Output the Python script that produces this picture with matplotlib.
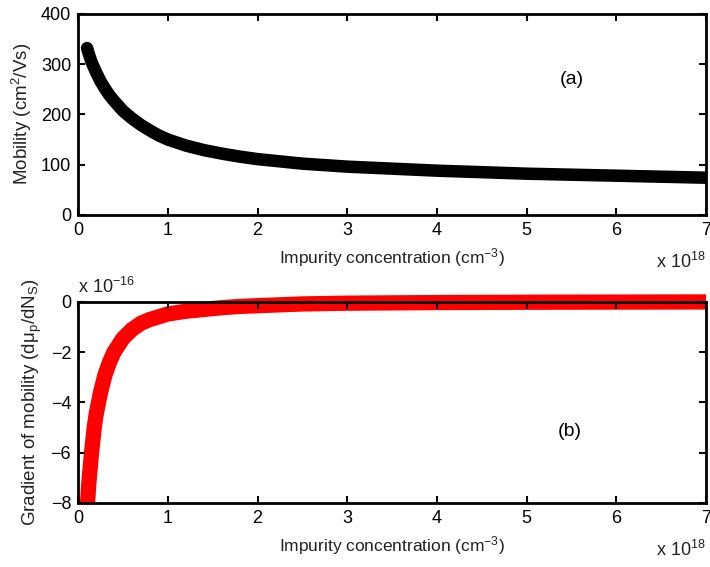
import numpy as np
import matplotlib.pyplot as plt

plt.rcParams['font.family'] = ['Liberation Sans', 'DejaVu Sans']
plt.rcParams['mathtext.fontset'] = 'custom'
plt.rcParams['mathtext.rm'] = 'Liberation Sans'
plt.rcParams['mathtext.it'] = 'Liberation Sans:italic'

# impurity concentration in units of 1e18 cm^-3
conc_a = [0.1, 0.12, 0.15, 0.2, 0.25, 0.3, 0.35, 0.4, 0.5, 0.6, 0.7, 0.8, 0.9,
          1.0, 1.2, 1.4, 1.6, 1.8, 2.0, 2.5, 3.0, 3.5, 4.0, 4.5, 5.0, 5.5,
          6.0, 6.5, 7.0]
mobility = [332, 320, 304, 284, 266, 251, 238, 227, 207, 192, 179, 168, 158,
            150, 138, 129, 122, 116, 111, 102, 96, 92, 88, 85, 82, 80,
            78, 76, 74]

# gradient in units of 1e-16
conc_b = [0.105, 0.12, 0.15, 0.18, 0.2, 0.25, 0.3, 0.35, 0.4, 0.5, 0.6, 0.7,
          0.8, 1.0, 1.2, 1.4, 1.6, 1.8, 2.0, 2.5, 3.0, 4.0, 5.0, 6.0, 7.0]
gradient = [-8.0, -7.2, -6.0, -5.0, -4.5, -3.6, -2.9, -2.4, -2.0, -1.45, -1.1,
            -0.85, -0.7, -0.48, -0.37, -0.3, -0.23, -0.18, -0.15, -0.08, -0.05,
            -0.025, -0.012, -0.006, 0.0]

fig = plt.figure(figsize=(7.1, 5.67), dpi=100)
ax1 = fig.add_axes([0.110, 0.621, 0.8845, 0.3545])
ax2 = fig.add_axes([0.110, 0.113, 0.8845, 0.3545])

ax1.plot(conc_a, mobility, color='black', lw=9, solid_capstyle='round',
         solid_joinstyle='round', zorder=3)
ax2.plot(conc_b, gradient, color='red', lw=11, solid_capstyle='butt',
         solid_joinstyle='round', clip_on=False, zorder=1)

ax1.set_xlim(0, 7)
ax1.set_ylim(0, 400)
ax1.set_yticks([0, 100, 200, 300, 400])
ax2.set_xlim(0, 7)
ax2.set_ylim(-8, 0)
ax2.set_yticks([-8, -6, -4, -2, 0])

txt = '#222222'
for ax in (ax1, ax2):
    ax.set_xticks(range(8))
    ax.tick_params(direction='in', top=True, right=True, labelsize=13,
                   length=5, width=1.5, pad=5)
    for s in ax.spines.values():
        s.set_linewidth(2)
        s.set_zorder(4)
    ax.set_xlabel('Impurity concentration (cm$^{-3}$)', fontsize=12.5,
                  color=txt, labelpad=5)

ax1.set_ylabel('Mobility (cm$^2$/Vs)', fontsize=13.5, color=txt, labelpad=5)
ax2.set_ylabel('Gradient of mobility (d\u03bc$_\\mathrm{p}$/dN$_\\mathrm{S}$)',
               fontsize=13.5, color=txt, labelpad=5)

ax1.text(5.5, 270, '(a)', fontsize=14, ha='center', va='center')
ax2.text(5.48, -5.15, '(b)', fontsize=14, ha='center', va='center')

ax1.text(1.0, -0.235, 'x 10$^{18}$', transform=ax1.transAxes, fontsize=13,
         ha='right', va='center', color=txt)
ax2.text(1.0, -0.235, 'x 10$^{18}$', transform=ax2.transAxes, fontsize=13,
         ha='right', va='center', color=txt)
ax2.text(0.0, 1.075, 'x 10$^{-16}$', transform=ax2.transAxes, fontsize=13,
         ha='left', va='center', color=txt)

fig.savefig('out.png', dpi=100)
